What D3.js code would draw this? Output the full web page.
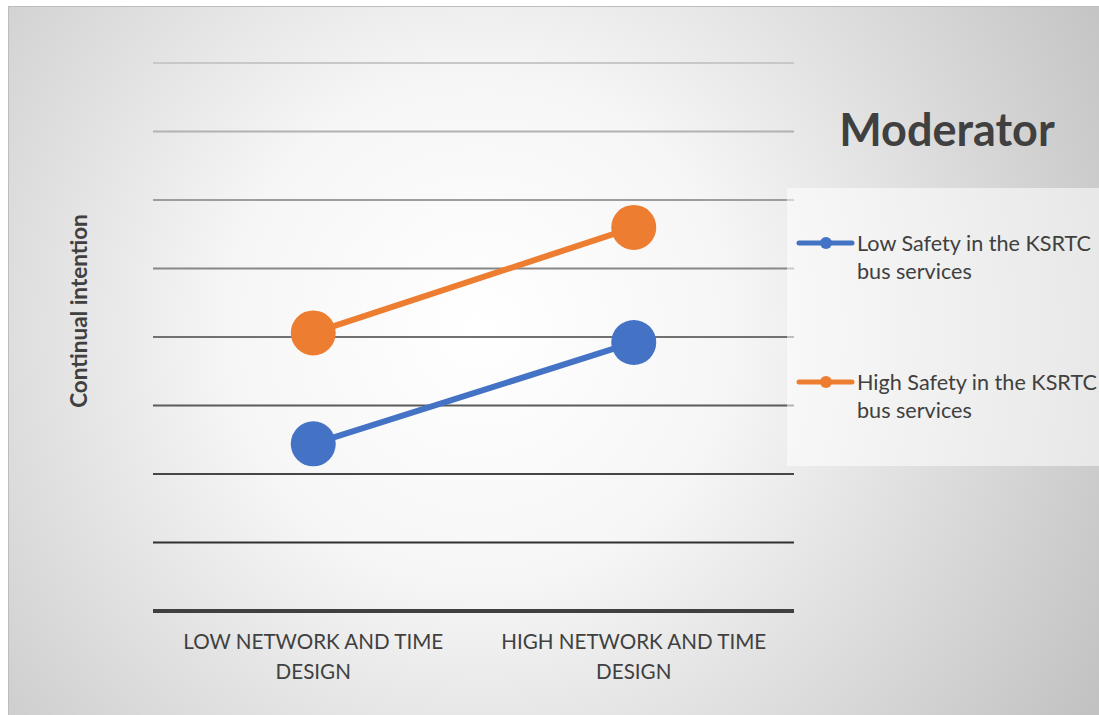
<!DOCTYPE html>
<html><head><meta charset="utf-8">
<script src="https://cdn.jsdelivr.net/npm/d3@7"></script>
<style>html,body{margin:0;padding:0;background:#fff;}svg{display:block;}</style>
</head><body>
<svg id="c" width="1099" height="715"></svg>
<script>
const categories = ["LOW NETWORK AND TIME DESIGN", "HIGH NETWORK AND TIME DESIGN"];
const categoryLines = [["LOW NETWORK AND TIME", "DESIGN"], ["HIGH NETWORK AND TIME", "DESIGN"]];
const seriesNames = ["Low Safety in the KSRTC bus services", "High Safety in the KSRTC bus services"];
const seriesLines = [["Low Safety in the KSRTC", "bus services"], ["High Safety in the KSRTC", "bus services"]];
const lowSafety = [2.22, 2.96];
const highSafety = [3.03, 3.80];
const seriesColors = ["#4472C4", "#ED7D31"];
const yTicks = [1, 1.5, 2, 2.5, 3, 3.5, 4, 4.5, 5];
const yTitle = "Continual intention";
const legendTitle = "Moderator";

const svg = d3.select("#c");
const W = 1099, H = 715;
const defs = svg.append("defs");
const rg = defs.append("radialGradient").attr("id","bg")
  .attr("gradientUnits","userSpaceOnUse").attr("cx",480).attr("cy",330).attr("r",720);
rg.append("stop").attr("offset","0").attr("stop-color","#ffffff");
rg.append("stop").attr("offset","0.35").attr("stop-color","#f6f6f6");
rg.append("stop").attr("offset","1").attr("stop-color","#c2c2c2");

svg.append("rect").attr("x",8).attr("y",6).attr("width",W-8).attr("height",H-6).attr("fill","url(#bg)");
svg.append("line").attr("x1",8).attr("x2",W).attr("y1",6.5).attr("y2",6.5).attr("stroke","#bdbdbd").attr("stroke-width",1);
svg.append("line").attr("x1",8.5).attr("x2",8.5).attr("y1",6).attr("y2",H).attr("stroke","#bdbdbd").attr("stroke-width",1);

const x = d3.scalePoint().domain(categories).range([153, 794]).padding(0.5);
const y = d3.scaleLinear().domain([1, 5]).range([611, 63]);

const gridColor = d3.scaleLinear().domain([5, 1.5, 1]).range(["#c8c8c8", "#303030", "#404040"]);

const grid = svg.append("g");
yTicks.forEach(t => {
  grid.append("line").attr("x1",153).attr("x2",794)
    .attr("y1",y(t)).attr("y2",y(t))
    .attr("stroke", gridColor(t)).attr("stroke-width", t === 1 ? 4 : 2);
});

const FONT = "Lato, 'Open Sans', sans-serif";
// x-axis labels
const xl = svg.append("g").attr("font-family",FONT).attr("font-size",20.6).attr("fill","#404040");
categories.forEach((c,i) => {
  categoryLines[i].forEach((ln,j) => {
    xl.append("text").attr("x",x(c)).attr("y",649 + j*30).attr("text-anchor","middle").text(ln);
  });
});

// y title
svg.append("text").attr("transform","translate(87,311) rotate(-90)")
  .attr("text-anchor","middle").attr("font-family",FONT)
  .attr("font-weight","bold").attr("font-size",22.5).attr("fill","#404040").text(yTitle);

// legend box
svg.append("rect").attr("x",787).attr("y",188).attr("width",W-787).attr("height",278)
  .attr("fill","#ffffff").attr("fill-opacity",0.55);
svg.append("text").attr("x",947).attr("y",146).attr("text-anchor","middle")
  .attr("font-family",FONT).attr("font-weight","bold")
  .attr("font-size",45).attr("fill","#404040").text(legendTitle);

const series = [lowSafety, highSafety];
const line = d3.line().x((d,i)=>x(categories[i])).y(d=>y(d));
series.forEach((s,k) => {
  svg.append("path").datum(s).attr("d",line).attr("fill","none")
    .attr("stroke",seriesColors[k]).attr("stroke-width",6).attr("stroke-linecap","round");
  svg.selectAll(null).data(s).enter().append("circle")
    .attr("cx",(d,i)=>x(categories[i])).attr("cy",d=>y(d)).attr("r",22.5)
    .attr("fill",seriesColors[k]);
});

const legY = [243, 382];
seriesNames.forEach((n,k) => {
  const g = svg.append("g");
  g.append("line").attr("x1",799).attr("x2",852).attr("y1",legY[k]).attr("y2",legY[k])
    .attr("stroke",seriesColors[k]).attr("stroke-width",5).attr("stroke-linecap","round");
  g.append("circle").attr("cx",826).attr("cy",legY[k]).attr("r",6).attr("fill",seriesColors[k]);
  seriesLines[k].forEach((ln,j) => {
    g.append("text").attr("x",857).attr("y",legY[k]+8+j*28)
      .attr("font-family",FONT).attr("font-size",21.6)
      .attr("fill","#404040").text(ln);
  });
});
</script>
</body></html>
